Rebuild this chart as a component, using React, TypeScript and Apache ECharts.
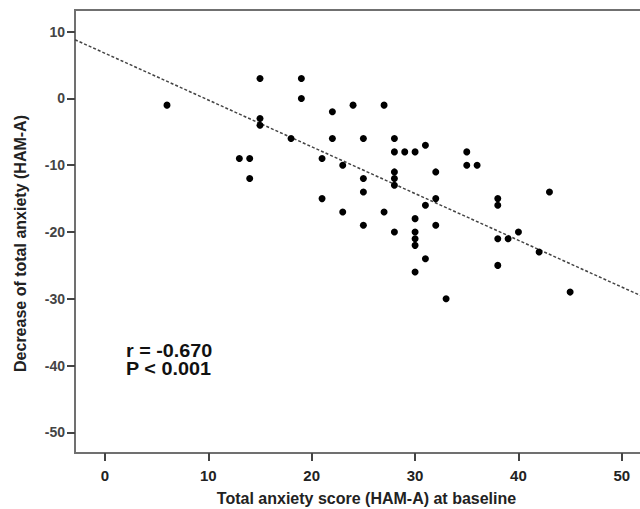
import React, { useEffect, useRef } from "react";
import * as echarts from "echarts";

const baselineScores = [
  6, 13, 14, 14, 15, 15, 15, 18, 19, 19, 21, 21, 22, 22, 23, 23, 24, 25, 25, 25,
  25, 27, 27, 28, 28, 28, 28, 28, 28, 29, 30, 30, 30, 30, 30, 30, 31, 31, 31, 32,
  32, 32, 33, 35, 35, 36, 38, 38, 38, 38, 39, 40, 42, 43, 45,
];
const anxietyDecrease = [
  -1, -9, -9, -12, 3, -3, -4, -6, 3, 0, -9, -15, -2, -6, -10, -17, -1, -6, -12, -14,
  -19, -1, -17, -6, -8, -11, -12, -13, -20, -8, -8, -18, -20, -21, -22, -26, -7, -16, -24, -11,
  -15, -19, -30, -8, -10, -10, -15, -16, -21, -25, -21, -20, -23, -14, -29,
];
const fitLineX = [-2.9, 53.5];
const fitLineY = [8.8, -30.7];
const xTickValues = [0, 10, 20, 30, 40, 50];
const yTickValues = [-50, -40, -30, -20, -10, 0, 10];
const xTitle = "Total anxiety score (HAM-A) at baseline";
const yTitle = "Decrease of total anxiety (HAM-A)";
const statLines = ["r = -0.670", "P < 0.001"];

const FONT = "'Liberation Sans', Arial, Helvetica, sans-serif";

export default function App() {
  const ref = useRef<HTMLDivElement>(null);
  useEffect(() => {
    document.body.style.margin = "0";
    const chart = echarts.init(ref.current!, null, { renderer: "svg" });
    const points = baselineScores.map((x, i) => [x, anxietyDecrease[i]]);
    const fit = fitLineX.map((x, i) => [x, fitLineY[i]]);
    chart.setOption({
      animation: false,
      backgroundColor: "#ffffff",
      grid: {
        left: 75,
        top: 10,
        right: -18,
        bottom: 56,
        containLabel: false,
        outerBoundsMode: "none",
        show: true,
        borderColor: "#707070",
        borderWidth: 2,
      },
      xAxis: {
        type: "value",
        min: -2.9,
        max: 53.5,
        name: xTitle,
        nameLocation: "middle",
        nameGap: 37,
        nameTextStyle: { fontFamily: FONT, fontSize: 16, fontWeight: "bold", color: "#222" },
        axisLine: { show: true, onZero: false, lineStyle: { color: "#707070", width: 2 } },
        axisTick: { show: true, length: 8, lineStyle: { color: "#444", width: 2 }, customValues: xTickValues },
        axisLabel: {
          customValues: xTickValues,
          fontFamily: FONT,
          fontSize: 15,
          fontWeight: "bold",
          color: "#222",
          margin: 15,
        },
        splitLine: { show: false },
      },
      yAxis: {
        type: "value",
        min: -53.1,
        max: 13.25,
        axisLine: { show: true, onZero: false, lineStyle: { color: "#707070", width: 2 } },
        axisTick: { show: true, length: 8, lineStyle: { color: "#444", width: 2 }, customValues: yTickValues },
        axisLabel: {
          customValues: yTickValues,
          fontFamily: FONT,
          fontSize: 14,
          fontWeight: "bold",
          color: "#444",
          margin: 10,
        },
        splitLine: { show: false },
      },
      series: [
        {
          type: "line",
          data: fit,
          symbol: "none",
          silent: true,
          lineStyle: { color: "#444", width: 1.5, type: [3, 2] },
          z: 1,
        },
        {
          type: "scatter",
          data: points,
          symbol: "circle",
          symbolSize: 7,
          itemStyle: { color: "#000", opacity: 1 },
          z: 3,
        },
      ],
      graphic: [
        {
          type: "text",
          x: 20,
          y: 243.5,
          rotation: Math.PI / 2,
          style: {
            text: yTitle,
            font: `bold 16px ${FONT}`,
            fill: "#222",
            textAlign: "center",
            textVerticalAlign: "middle",
          },
        },
        {
          type: "text",
          x: 126,
          y: 351,
          scaleX: 1.1,
          style: {
            text: statLines[0],
            font: `bold 18px ${FONT}`,
            fill: "#111",
            textAlign: "left",
            textVerticalAlign: "middle",
          },
        },
        {
          type: "text",
          x: 126,
          y: 369,
          scaleX: 1.1,
          style: {
            text: statLines[1],
            font: `bold 18px ${FONT}`,
            fill: "#111",
            textAlign: "left",
            textVerticalAlign: "middle",
          },
        },
      ],
    });
    return () => chart.dispose();
  }, []);
  return (
    <div
      ref={ref}
      style={{ position: "absolute", left: 0, top: 0, width: 640, height: 509, overflow: "hidden" }}
    />
  );
}
